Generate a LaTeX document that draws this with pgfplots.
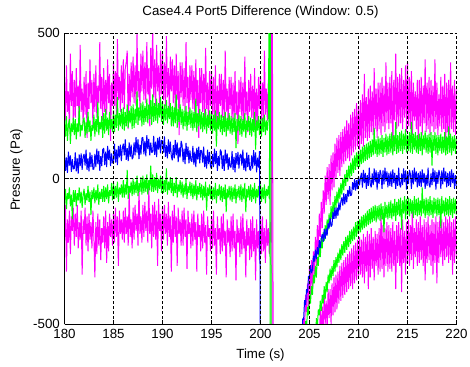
\documentclass[border=0pt]{standalone}
\usepackage{pgfplots}
\pgfplotsset{compat=1.18}
\usepackage{pgfplotstable}
\usepackage{fontspec}
\setmainfont{Liberation Sans}
\definecolor{mlMag}{rgb}{1,0,1}
\definecolor{mlGrn}{rgb}{0,1,0}
\definecolor{mlBlu}{rgb}{0,0,1}
\pgfplotstableread{
t b gu gl mu ml
180.0 85 200 -85 330 -200
180.1 27 145 -35 200 -90
180.2 73 215 -105 390 -320
180.3 20 130 -50 230 -140
180.4 93 185 -70 300 -220
180.5 45 205 -30 170 -110
180.6 80 120 -95 430 -260
180.7 23 190 -55 250 -130
180.8 67 160 -140 370 -180
180.9 33 210 -40 190 -100
181.0 35 150 -80 340 -230
181.1 90 205 -40 210 -120
181.2 25 135 -95 380 -200
181.3 70 190 -50 250 -90
181.4 17 160 -75 320 -240
181.5 83 250 -30 180 -150
181.6 43 145 -85 460 -210
181.7 87 185 -45 230 -110
181.8 30 165 -100 310 -330
181.9 75 200 -55 190 -140
182.0 85 210 -35 350 -190
182.1 45 140 -90 220 -100
182.2 100 195 -50 370 -230
182.3 30 155 -75 140 -130
182.4 70 230 -25 330 -250
182.5 25 160 -80 240 -120
182.6 90 200 -45 410 -210
182.7 40 130 -125 260 -150
182.8 82 185 -40 340 -240
182.9 32 165 -70 180 -110
183.0 33 220 -30 360 -200
183.1 85 145 -85 230 -340
183.2 40 205 -40 390 -150
183.3 103 160 -75 210 -260
183.4 50 265 -20 320 -120
183.5 95 150 -90 260 -230
183.6 27 195 -45 470 -140
183.7 77 170 -70 240 -280
183.8 43 215 -35 350 -170
183.9 100 140 -80 200 -220
184.0 105 225 -25 380 -130
184.1 47 155 -80 230 -240
184.2 93 240 -30 340 -110
184.3 40 165 -70 220 -290
184.4 113 210 -20 410 -150
184.5 65 150 -85 260 -250
184.6 100 230 -40 360 -120
184.7 43 170 -60 130 -200
184.8 87 205 -15 330 -140
184.9 53 160 -75 250 -230
185.0 65 235 -15 400 -120
185.1 120 160 -70 250 -220
185.2 55 220 -25 370 -100
185.3 100 175 -65 210 -200
185.4 47 280 -10 480 -130
185.5 113 165 -80 270 -300
185.6 73 225 -30 350 -110
185.7 117 180 -55 230 -190
185.8 60 240 -20 390 -140
185.9 105 170 -65 260 -210
186.0 120 245 -5 410 -110
186.1 80 165 -65 240 -220
186.2 135 230 -20 380 -100
186.3 65 180 -55 400 -190
186.4 105 255 30 440 -130
186.5 60 175 -70 170 -230
186.6 125 235 -25 360 -40
186.7 75 190 -50 250 -200
186.8 117 250 -10 400 -140
186.9 67 170 -60 280 -240
187.0 73 255 0 420 -100
187.1 125 175 -55 260 -210
187.2 80 240 -10 390 -90
187.3 143 190 -50 250 -180
187.4 90 300 10 500 -120
187.5 135 185 -60 280 -230
187.6 67 245 -15 370 -30
187.7 117 200 -45 240 -190
187.8 83 260 5 430 -130
187.9 140 180 -55 300 -220
188.0 142 265 10 440 -90
188.1 84 185 -50 270 -200
188.2 130 250 0 400 -80
188.3 77 195 -45 260 -180
188.4 150 275 15 470 -110
188.5 102 190 -55 290 -220
188.6 137 255 -5 380 -20
188.7 80 205 -40 180 -190
188.8 124 270 45 450 -120
188.9 90 185 -45 310 -240
189.0 92 290 15 520 -90
189.1 147 195 -45 280 -200
189.2 82 260 5 410 -80
189.3 127 200 -40 250 -210
189.4 74 275 20 460 -110
189.5 140 190 -50 300 -300
189.6 100 260 0 390 -70
189.7 144 210 -35 240 -180
189.8 87 280 10 440 -120
189.9 132 195 -50 290 -250
190.0 130 265 5 430 -100
190.1 90 185 -50 270 -210
190.2 145 255 -5 400 -90
190.3 75 200 -45 250 -190
190.4 115 270 35 490 -120
190.5 70 190 -55 280 -230
190.6 135 250 -10 380 -80
190.7 85 205 -40 230 -200
190.8 127 260 5 420 -130
190.9 77 180 -50 300 -320
191.0 63 250 0 410 -110
191.1 115 180 -60 260 -220
191.2 70 245 -15 390 -90
191.3 133 190 -50 240 -200
191.4 80 290 5 430 -130
191.5 125 175 -65 270 -300
191.6 57 240 -20 370 -100
191.7 107 195 -45 150 -190
191.8 73 255 -5 400 -140
191.9 130 185 -55 280 -230
192.0 115 240 -10 400 -110
192.1 57 170 -65 250 -230
192.2 103 235 -20 380 -100
192.3 50 180 -55 230 -200
192.4 123 250 0 470 -140
192.5 75 165 -70 260 -310
192.6 110 230 -25 350 -110
192.7 53 185 -50 210 -190
192.8 97 245 -10 390 -150
192.9 63 175 -60 270 -240
193.0 58 235 -15 390 -120
193.1 113 165 -70 240 -230
193.2 48 230 -20 370 -110
193.3 93 175 -60 220 -210
193.4 40 275 -5 410 -150
193.5 106 160 -75 250 -320
193.6 66 225 -25 340 -120
193.7 110 180 -55 140 -200
193.8 53 240 -15 380 -160
193.9 98 170 -65 260 -250
194.0 95 230 -20 380 -120
194.1 55 160 -75 230 -240
194.2 110 225 -25 360 -110
194.3 40 170 -65 210 -220
194.4 80 240 -10 450 -160
194.5 35 155 -110 240 -330
194.6 100 220 -30 330 -130
194.7 50 175 -60 190 -200
194.8 92 235 -20 370 -170
194.9 42 165 -70 250 -250
195.0 33 225 -25 370 -130
195.1 85 155 -75 220 -240
195.2 40 220 -30 350 -110
195.3 103 165 -70 200 -230
195.4 50 235 -15 390 -170
195.5 95 110 -85 170 -330
195.6 27 215 -35 320 -130
195.7 77 170 -60 190 -210
195.8 43 230 -20 360 -170
195.9 100 160 -75 250 -260
196.0 92 220 -25 360 -130
196.1 34 150 -80 210 -250
196.2 80 215 -30 340 -120
196.3 27 160 -70 200 -230
196.4 100 230 -20 440 -180
196.5 52 145 -115 230 -340
196.6 87 210 -35 310 -140
196.7 30 165 -65 180 -220
196.8 74 225 -25 350 -170
196.9 40 155 -75 240 -270
197.0 40 215 -25 350 -130
197.1 95 150 -80 200 -250
197.2 30 210 -30 330 -120
197.3 75 160 -70 190 -240
197.4 22 225 -20 370 -180
197.5 88 105 -85 220 -350
197.6 48 205 -35 300 -140
197.7 92 165 -65 120 -220
197.8 35 220 -25 340 -170
197.9 80 150 -75 230 -270
198.0 85 215 -20 350 -130
198.1 45 145 -80 200 -260
198.2 100 205 -30 330 -120
198.3 30 160 -70 180 -240
198.4 70 225 -15 420 -180
198.5 25 140 -115 220 -340
198.6 90 200 -35 300 -140
198.7 40 165 -65 160 -230
198.8 82 215 -25 340 -170
198.9 32 150 -75 230 -280
199.0 28 210 -20 360 -140
199.1 80 145 -80 210 -270
199.2 35 205 -30 320 -130
199.3 98 160 -70 190 -250
199.4 45 230 -15 380 -170
199.5 90 100 -85 160 -350
199.6 22 200 -35 310 -140
199.7 72 165 -65 170 -240
199.8 38 215 -25 350 -180
199.9 95 150 -75 240 -280
200.0 -700 205 -20 350 -140
200.1 -700 145 -80 200 -260
200.2 -700 210 -30 330 -130
200.3 -700 160 -70 190 -250
200.4 -700 220 -20 440 -170
200.5 -700 150 -85 220 -290
200.6 -700 200 -35 310 -140
200.7 -700 165 -60 200 -230
200.8 -700 210 -25 340 -170
200.9 -700 700 -70 230 -260
201.0 -700 -700 700 300 -150
201.1 -700 -700 -700 700 -220
201.2 -700 -700 -700 -700 700
201.3 -700 -700 -700 -700 -700
204.1 -700 -700 -700 -700 -700
204.2 -600 -700 -700 -700 -700
204.3 -482 -700 -700 -620 -700
204.4 -485 -700 -700 -480 -700
204.5 -418 -620 -700 -520 -700
204.6 -435 -490 -700 -400 -700
204.7 -380 -520 -700 -460 -700
204.8 -392 -440 -700 -360 -700
204.9 -335 -470 -700 -440 -700
205.0 -342 -400 -700 -300 -700
205.1 -298 -430 -700 -400 -700
205.2 -325 -370 -700 -280 -700
205.3 -314 -400 -700 -380 -700
205.4 -265 -330 -700 -250 -700
205.5 -285 -360 -700 -330 -700
205.6 -244 -300 -600 -200 -700
205.7 -277 -340 -480 -300 -700
205.8 -236 -270 -510 -160 -620
205.9 -261 -300 -450 -260 -520
206.0 -212 -230 -470 -120 -560
206.1 -238 -270 -420 -200 -450
206.2 -206 -205 -455 -80 -540
206.3 -191 -240 -400 -170 -440
206.4 -217 -185 -430 -40 -520
206.5 -173 -215 -370 -120 -400
206.6 -208 -160 -415 10 -500
206.7 -171 -195 -355 -90 -420
206.8 -196 -140 -390 40 -520
206.9 -152 -175 -330 -70 -380
207.0 -172 -120 -360 50 -480
207.1 -134 -160 -310 -90 -380
207.2 -165 -95 -350 80 -500
207.3 -159 -140 -300 -40 -360
207.4 -114 -80 -335 90 -470
207.5 -138 -120 -280 -30 -340
207.6 -100 -60 -320 120 -460
207.7 -137 -100 -270 0 -330
207.8 -99 -45 -305 140 -450
207.9 -128 -85 -255 20 -320
208.0 -82 -30 -290 150 -430
208.1 -109 -70 -240 10 -300
208.2 -79 -15 -280 160 -420
208.3 -65 -55 -225 40 -290
208.4 -93 0 -265 170 -410
208.5 -50 -40 -215 50 -280
208.6 -88 15 -255 180 -400
208.7 -53 -25 -200 60 -270
208.8 -81 30 -245 200 -390
208.9 -39 -10 -195 70 -260
209.0 -62 45 -235 190 -380
209.1 -26 0 -180 60 -250
209.2 -59 55 -225 220 -370
209.3 -55 10 -175 80 -240
209.4 -12 70 -215 230 -380
209.5 -38 20 -165 90 -230
209.6 -2 80 -210 240 -360
209.7 -41 30 -150 100 -220
209.8 -5 90 -200 260 -350
209.9 -36 40 -145 110 -210
210.0 8 95 -190 250 -340
210.1 -23 40 -140 100 -200
210.2 3 100 -185 270 -330
210.3 20 50 -130 120 -210
210.4 -31 110 -175 290 -340
210.5 30 55 -125 110 -190
210.6 -15 115 -170 360 -360
210.7 20 60 -120 140 -200
210.8 -35 120 -165 280 -320
210.9 12 65 -110 130 -180
211.0 -25 125 -160 310 -380
211.1 38 70 -105 140 -190
211.2 -20 130 -155 320 -340
211.3 -30 75 -100 160 -170
211.4 18 135 -150 300 -310
211.5 -22 80 -95 150 -200
211.6 35 175 -145 380 -350
211.7 -12 85 -90 170 -180
211.8 28 135 -150 310 -300
211.9 -38 75 -95 140 -190
212.0 22 145 -140 330 -330
212.1 -18 80 -90 170 -170
212.2 30 140 -145 330 -320
212.3 15 85 -85 150 -110
212.4 -35 150 -140 350 -310
212.5 28 75 -95 180 -160
212.6 -20 140 -185 320 -340
212.7 38 90 -80 160 -170
212.8 -10 155 -135 400 -300
212.9 25 80 -90 190 -150
213.0 -30 145 -140 330 -320
213.1 20 85 -80 170 -160
213.2 -25 155 -135 350 -310
213.3 25 90 -75 190 -170
213.4 -28 160 -140 370 -320
213.5 32 80 -85 90 -150
213.6 -15 150 -130 340 -300
213.7 20 95 -70 200 -180
213.8 -35 195 -145 430 -380
213.9 12 85 -80 170 -160
214.0 -25 150 -125 350 -290
214.1 38 90 -70 180 -150
214.2 -20 160 -130 360 -300
214.3 -30 95 -65 190 -170
214.4 18 165 -175 380 -390
214.5 -22 85 -75 170 -140
214.6 35 155 -120 340 -290
214.7 -12 100 -60 210 -180
214.8 28 170 -140 390 -330
214.9 -38 90 -70 160 -150
215.0 22 150 -125 400 -290
215.1 -18 95 -65 180 -140
215.2 30 160 -130 350 -300
215.3 15 90 -70 170 -160
215.4 -35 195 -120 370 -280
215.5 28 85 -75 150 -80
215.6 -20 155 -135 330 -310
215.7 38 100 -60 200 -170
215.8 -10 160 -125 300 -270
215.9 25 90 -70 170 -140
216.0 -30 150 -130 340 -300
216.1 20 85 -65 100 -150
216.2 -25 155 -125 340 -290
216.3 25 95 -75 180 -130
216.4 -28 160 -130 350 -280
216.5 32 80 -30 150 -160
216.6 -15 150 -120 320 -300
216.7 20 100 -70 190 -140
216.8 -35 165 -135 410 -350
216.9 12 90 -65 160 -150
217.0 -25 150 -125 330 -290
217.1 38 85 -70 170 -130
217.2 -20 155 -130 350 -280
217.3 -30 90 -60 150 -160
217.4 18 160 -125 340 -300
217.5 -22 45 -75 180 -140
217.6 35 150 -135 320 -330
217.7 -12 95 -65 160 -150
217.8 28 160 -120 410 -290
217.9 -38 85 -70 170 -130
218.0 22 150 -130 330 -360
218.1 -18 80 -65 150 -150
218.2 30 150 -125 290 -290
218.3 15 95 -70 180 -130
218.4 -35 155 -170 350 -270
218.5 28 85 -60 160 -140
218.6 -20 145 -120 320 -300
218.7 38 90 -75 170 -150
218.8 -10 160 -130 360 -280
218.9 25 80 -65 90 -130
219.0 -30 145 -125 330 -270
219.1 20 85 -70 160 -140
219.2 -25 180 -130 340 -290
219.3 25 90 -60 150 -130
219.4 -28 155 -125 400 -280
219.5 32 80 -70 170 -150
219.6 -15 145 -135 320 -330
219.7 20 95 -65 160 -140
219.8 -35 150 -120 340 -290
219.9 12 85 -70 150 -130
220.0 -25 140 -125 310 -270
}\datatable

\begin{document}
\begin{tikzpicture}[font=\fontsize{13.3bp}{16bp}\selectfont]
\path[use as bounding box] (-64.5bp,-43bp) rectangle (405.5bp,324bp);
\begin{axis}[
  at={(0,0)}, anchor=south west,
  scale only axis, width=392bp, height=290.7bp,
  xmin=180, xmax=220, ymin=-500, ymax=500,
  xtick={180,185,...,220}, ytick={-500,0,500},
  axis x line*=bottom, axis y line*=left,
  axis on top,
  grid=major,
  major grid style={black, line width=0.5bp, dash pattern=on 3bp off 2bp},
  axis line style={black, line width=0.6bp},
  tick align=inside, major tick length=4bp,
  tick style={black, line width=0.5bp},
  /pgf/number format/assume math mode=true,
  /pgf/number format/set thousands separator={},
  ticklabel style={font=\fontsize{13.3bp}{16bp}\selectfont, inner sep=0pt},
  xticklabel shift=5bp, yticklabel shift=4.5bp,
  xlabel={Time (s)}, ylabel={Pressure (Pa)},
  xlabel style={at={(axis description cs:0.5,0)}, anchor=north, yshift=-24.3bp, inner sep=0pt},
  ylabel style={at={(axis description cs:-0.139,0.53)}, anchor=north, inner sep=0pt},
  title={Case4.4 Port5 Difference (Window: 0.5)},
  title style={at={(axis description cs:0.5,1)}, anchor=north, yshift=21.6bp, inner sep=0pt},
  every axis plot/.append style={line width=1bp, line join=bevel},
]
\addplot[mlMag] table[x=t, y=mu] {\datatable};
\addplot[mlMag] table[x=t, y=ml] {\datatable};
\addplot[mlGrn] table[x=t, y=gu] {\datatable};
\addplot[mlGrn] table[x=t, y=gl] {\datatable};
\addplot[mlBlu] table[x=t, y=b] {\datatable};
\end{axis}
\end{tikzpicture}
\end{document}
